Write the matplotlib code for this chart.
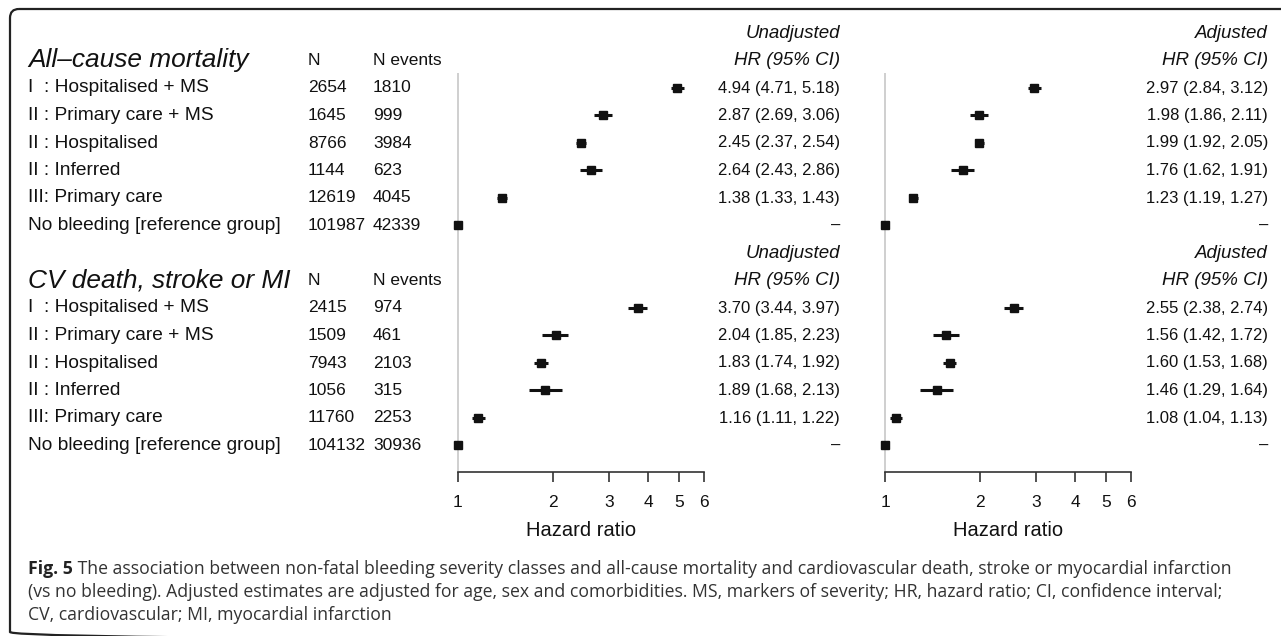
import matplotlib.pyplot as plt
from matplotlib.patches import FancyBboxPatch
from matplotlib.ticker import NullLocator

# row labels (same for both outcomes)
labels = ['I  : Hospitalised + MS', 'II : Primary care + MS', 'II : Hospitalised',
          'II : Inferred', 'III: Primary care', 'No bleeding [reference group]']

# all-cause mortality
acm_n = ['2654', '1645', '8766', '1144', '12619', '101987']
acm_events = ['1810', '999', '3984', '623', '4045', '42339']
acm_unadj = [4.94, 2.87, 2.45, 2.64, 1.38, 1.0]
acm_unadj_lo = [4.71, 2.69, 2.37, 2.43, 1.33, 1.0]
acm_unadj_hi = [5.18, 3.06, 2.54, 2.86, 1.43, 1.0]
acm_adj = [2.97, 1.98, 1.99, 1.76, 1.23, 1.0]
acm_adj_lo = [2.84, 1.86, 1.92, 1.62, 1.19, 1.0]
acm_adj_hi = [3.12, 2.11, 2.05, 1.91, 1.27, 1.0]

# CV death, stroke or MI
cv_n = ['2415', '1509', '7943', '1056', '11760', '104132']
cv_events = ['974', '461', '2103', '315', '2253', '30936']
cv_unadj = [3.70, 2.04, 1.83, 1.89, 1.16, 1.0]
cv_unadj_lo = [3.44, 1.85, 1.74, 1.68, 1.11, 1.0]
cv_unadj_hi = [3.97, 2.23, 1.92, 2.13, 1.22, 1.0]
cv_adj = [2.55, 1.56, 1.60, 1.46, 1.08, 1.0]
cv_adj_lo = [2.38, 1.42, 1.53, 1.29, 1.04, 1.0]
cv_adj_hi = [2.74, 1.72, 1.68, 1.64, 1.13, 1.0]

xticks = [1, 2, 3, 4, 5, 6]

caption_bold = 'Fig. 5'
caption = [' The association between non-fatal bleeding severity classes and all-cause mortality and cardiovascular death, stroke or myocardial infarction',
           '(vs no bleeding). Adjusted estimates are adjusted for age, sex and comorbidities. MS, markers of severity; HR, hazard ratio; CI, confidence interval;',
           'CV, cardiovascular; MI, myocardial infarction']

plt.rcParams['font.family'] = ['Liberation Sans', 'DejaVu Sans']

W, H = 1281, 636
fig = plt.figure(figsize=(W / 100, H / 100), dpi=100)

# background axes in pixel units for the text columns
bg = fig.add_axes([0, 0, 1, 1])
bg.set_xlim(0, W)
bg.set_ylim(H, 0)
bg.axis('off')

ROW0, DY = 33, 27.5   # first header line, row spacing (pixels)
def ry(r):
    return ROW0 + DY * r

frame = FancyBboxPatch((10, 9), W + 20, 632, boxstyle='round,pad=0,rounding_size=9',
                       fc='none', ec='#222222', lw=1.6)
bg.add_patch(frame)

ink = '#111111'
fs = 13.8

sections = [
    ('All\u2013cause mortality', acm_n, acm_events,
     (acm_unadj, acm_unadj_lo, acm_unadj_hi), (acm_adj, acm_adj_lo, acm_adj_hi), 0),
    ('CV death, stroke or MI', cv_n, cv_events,
     (cv_unadj, cv_unadj_lo, cv_unadj_hi), (cv_adj, cv_adj_lo, cv_adj_hi), 8),
]

for title, n, ev, un, ad, r0 in sections:
    bg.text(28, ry(r0 + 1), title, fontsize=18.9, style='italic', va='center', color=ink)
    bg.text(308, ry(r0 + 1), 'N', fontsize=12.5, va='center', color=ink)
    bg.text(373, ry(r0 + 1), 'N events', fontsize=12.5, va='center', color=ink)
    for xr, head in [(840, 'Unadjusted'), (1268, 'Adjusted')]:
        bg.text(xr, ry(r0), head, fontsize=13.5, style='italic', ha='right', va='center', color=ink)
        bg.text(xr, ry(r0 + 1), 'HR (95% CI)', fontsize=13.5, style='italic', ha='right', va='center', color=ink)
    for i in range(len(labels)):
        y = ry(r0 + 2 + i)
        bg.text(28, y, labels[i], fontsize=fs, va='center', color=ink)
        bg.text(308, y, n[i], fontsize=12.5, va='center', color=ink)
        bg.text(373, y, ev[i], fontsize=12.5, va='center', color=ink)
        for xr, (hr, lo, hi) in [(840, un), (1268, ad)]:
            if i == len(labels) - 1:
                s = '\u2013'
            else:
                s = f'{hr[i]:.2f} ({lo[i]:.2f}, {hi[i]:.2f})'
            bg.text(xr, y, s, fontsize=12, ha='right', va='center', color=ink)

# forest panels
def forest(x0, x1, est):
    top, bottom = 5, 472
    ax = fig.add_axes([x0 / W, 1 - bottom / H, (x1 - x0) / W, (bottom - top) / H])
    ax.patch.set_alpha(0)
    ax.set_xscale('log')
    ax.set_xlim(1, 6)
    ax.set_ylim((bottom - ROW0) / DY, (top - ROW0) / DY)
    ax.vlines(1, (73 - ROW0) / DY, (bottom - ROW0) / DY, color='#cccccc', lw=1.3, zorder=0, clip_on=False)
    for (hr, lo, hi), r0 in est:
        rows = [r0 + 2 + i for i in range(len(hr))]
        ax.hlines(rows, lo, hi, color=ink, lw=2.2, clip_on=False)
        ax.plot(hr, rows, 's', ms=5.8, color=ink, clip_on=False, zorder=3)
    for s in ['left', 'right', 'top']:
        ax.spines[s].set_visible(False)
    ax.spines['bottom'].set_color('#333333')
    ax.spines['bottom'].set_linewidth(1.2)
    ax.set_yticks([])
    ax.set_xticks(xticks)
    ax.set_xticklabels([str(t) for t in xticks])
    ax.xaxis.set_minor_locator(NullLocator())
    ax.tick_params(axis='x', length=7.5, width=1.2, color='#333333', pad=9, labelsize=12.5, labelcolor=ink)
    ax.set_xlabel('Hazard ratio', fontsize=14.5, labelpad=8, color=ink)
    return ax

forest(458, 704, [((acm_unadj, acm_unadj_lo, acm_unadj_hi), 0), ((cv_unadj, cv_unadj_lo, cv_unadj_hi), 8)])
forest(885, 1131, [((acm_adj, acm_adj_lo, acm_adj_hi), 0), ((cv_adj, cv_adj_lo, cv_adj_hi), 8)])

# caption
cap_fs = 12.7
cap_col = '#333333'
t = bg.text(28, 569, caption_bold, fontsize=cap_fs, weight='bold', family='Open Sans',
            va='center', color='#222222')
bg.annotate(caption[0], xy=(1, 0.5), xycoords=t, va='center', fontsize=cap_fs,
            family='Open Sans', color=cap_col)
bg.text(28, 592, caption[1], fontsize=cap_fs, family='Open Sans', va='center', color=cap_col)
bg.text(28, 615, caption[2], fontsize=cap_fs, family='Open Sans', va='center', color=cap_col)

fig.savefig('out.png', dpi=100)
